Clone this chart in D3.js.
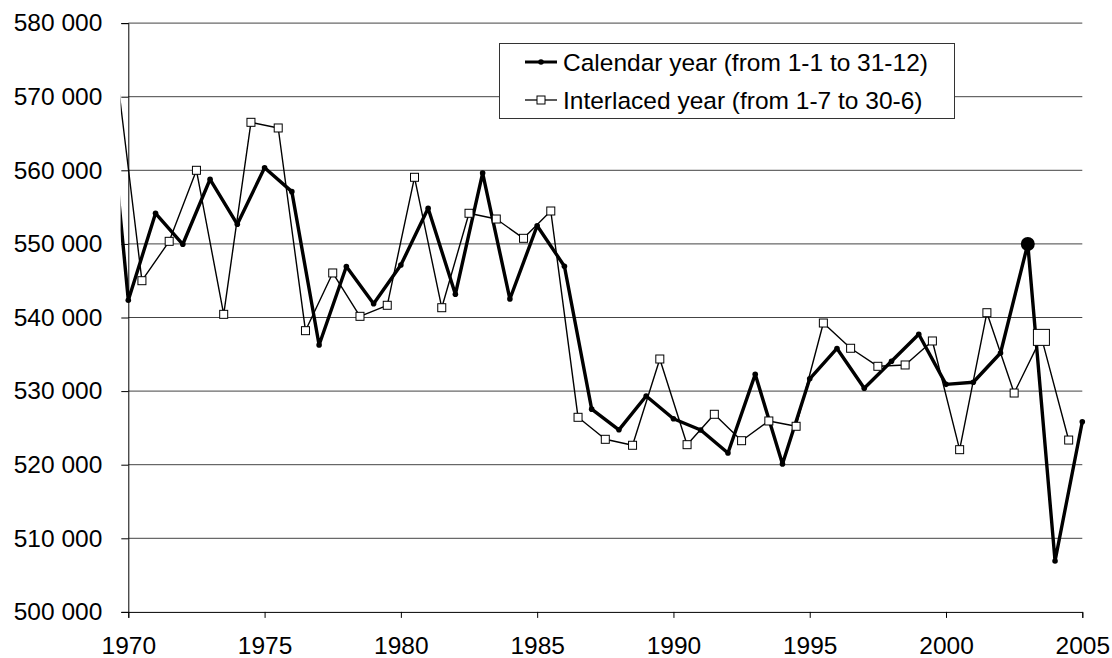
<!DOCTYPE html>
<html>
<head>
<meta charset="utf-8">
<script src="https://cdn.jsdelivr.net/npm/d3@7/dist/d3.min.js"></script>
<style>
  html, body { margin: 0; padding: 0; background: #fff; }
  svg { display: block; font-family: "Liberation Sans", Arial, sans-serif; }
</style>
</head>
<body>
<svg id="chart" width="1112" height="658"></svg>
<script>
// ---- data ----
const calendarYears = [1969, 1970, 1971, 1972, 1973, 1974, 1975, 1976, 1977, 1978, 1979,
  1980, 1981, 1982, 1983, 1984, 1985, 1986, 1987, 1988, 1989,
  1990, 1991, 1992, 1993, 1994, 1995, 1996, 1997, 1998, 1999,
  2000, 2001, 2002, 2003, 2004, 2005];
const calendarValues = [581500, 542340, 554160, 549950, 558780, 552660, 560350, 557100, 536260, 546930, 541880,
  547130, 554840, 543150, 559630, 542510, 552470, 546960, 527550, 524740, 529330,
  526250, 524720, 521590, 532280, 520100, 531670, 535790, 530380, 534050, 537720,
  530920, 531200, 535180, 549990, 506920, 525840];

const interlacedYears = [1969.5, 1970.5, 1971.5, 1972.5, 1973.5, 1974.5, 1975.5, 1976.5, 1977.5, 1978.5, 1979.5,
  1980.5, 1981.5, 1982.5, 1983.5, 1984.5, 1985.5, 1986.5, 1987.5, 1988.5, 1989.5,
  1990.5, 1991.5, 1992.5, 1993.5, 1994.5, 1995.5, 1996.5, 1997.5, 1998.5, 1999.5,
  2000.5, 2001.5, 2002.5, 2003.5, 2004.5];
const interlacedValues = [575600, 545000, 550350, 560000, 540430, 566520, 565750, 538210, 546050, 540160, 541660,
  559050, 541330, 554160, 553380, 550760, 554470, 526440, 523450, 522640, 534360,
  522720, 526850, 523260, 525940, 525220, 539250, 535820, 533370, 533550, 536810,
  522040, 540650, 529740, 537300, 523350];

const highlightCalendar = 2003;
const highlightInterlaced = 2003.5;

const xTicks = [1970, 1975, 1980, 1985, 1990, 1995, 2000, 2005];
const yTicks = [500000, 510000, 520000, 530000, 540000, 550000, 560000, 570000, 580000];

const legendLabels = ["Calendar year (from 1-1 to 31-12)", "Interlaced year (from 1-7 to 30-6)"];

// ---- layout ----
const svg = d3.select("#chart");
const mLeft = 128.3, mRight = 1082.3, mTop = 23.1, mBottom = 611.9;
const FS = 24.5;

const x = d3.scaleLinear().domain([1970, 2005]).range([mLeft, mRight]);
const y = d3.scaleLinear().domain([500000, 580000]).range([mBottom, mTop]);

const fmt = v => d3.format(",")(v).replace(/,/g, " ");

// gridlines
svg.append("g")
  .selectAll("line")
  .data(yTicks.filter(v => v !== 500000))
  .join("line")
  .attr("x1", mLeft).attr("x2", mRight)
  .attr("y1", d => y(d)).attr("y2", d => y(d))
  .attr("stroke", "#444").attr("stroke-width", 1);

// y axis
const yAxis = svg.append("g")
  .attr("transform", `translate(${mLeft},0)`)
  .call(d3.axisLeft(y).tickValues(yTicks).tickFormat(fmt).tickSize(7).tickPadding(19));
yAxis.select(".domain").attr("stroke", "#000");
yAxis.selectAll(".tick line").attr("stroke", "#000");
yAxis.selectAll("text").attr("font-size", FS).attr("fill", "#000")
  .attr("font-family", "'Liberation Sans', Arial, sans-serif");

// x axis
const xAxis = svg.append("g")
  .attr("transform", `translate(0,${mBottom})`)
  .call(d3.axisBottom(x).tickValues(xTicks).tickFormat(d3.format("d")).tickSize(6).tickPadding(21));
xAxis.select(".domain").attr("stroke", "#000");
xAxis.selectAll(".tick line").attr("stroke", "#000");
xAxis.selectAll("text").attr("font-size", FS).attr("fill", "#000")
  .attr("font-family", "'Liberation Sans', Arial, sans-serif")
  .attr("y", 42.3).attr("dy", 0);

// clip
svg.append("defs").append("clipPath").attr("id", "plotclip")
  .append("rect").attr("x", 120.6).attr("y", 0).attr("width", mRight + 20 - 120.6).attr("height", mBottom + 10);

const plot = svg.append("g").attr("clip-path", "url(#plotclip)");

const cal = calendarYears.map((yr, i) => ({ yr, v: calendarValues[i] }));
const inter = interlacedYears.map((yr, i) => ({ yr, v: interlacedValues[i] }));

const line = d3.line().x(d => x(d.yr)).y(d => y(d.v));

// interlaced (thin)
plot.append("path").datum(inter).attr("d", line)
  .attr("fill", "none").attr("stroke", "#000").attr("stroke-width", 1.4).attr("stroke-linejoin", "round");

// calendar (thick)
plot.append("path").datum(cal).attr("d", line)
  .attr("fill", "none").attr("stroke", "#000").attr("stroke-width", 3.4).attr("stroke-linejoin", "round");

// squares
const visInter = inter.filter(d => d.yr >= 1970);
plot.append("g").selectAll("rect").data(visInter).join("rect")
  .attr("x", d => x(d.yr) - (d.yr === highlightInterlaced ? 8 : 4))
  .attr("y", d => y(d.v) - (d.yr === highlightInterlaced ? 8 : 4))
  .attr("width", d => d.yr === highlightInterlaced ? 16 : 8)
  .attr("height", d => d.yr === highlightInterlaced ? 16 : 8)
  .attr("fill", "#fff").attr("stroke", "#000").attr("stroke-width", 1);

// dots
const visCal = cal.filter(d => d.yr >= 1970);
plot.append("g").selectAll("circle").data(visCal).join("circle")
  .attr("cx", d => x(d.yr)).attr("cy", d => y(d.v))
  .attr("r", d => d.yr === highlightCalendar ? 7 : 2.8)
  .attr("fill", "#000");

// legend
const lg = svg.append("g");
lg.append("rect").attr("x", 499.5).attr("y", 43.5).attr("width", 455).attr("height", 75)
  .attr("fill", "#fff").attr("stroke", "#333").attr("stroke-width", 1);
const rows = [62, 100];
lg.append("line").attr("x1", 525).attr("x2", 557).attr("y1", rows[0]).attr("y2", rows[0])
  .attr("stroke", "#000").attr("stroke-width", 3);
lg.append("circle").attr("cx", 541).attr("cy", rows[0]).attr("r", 2.8).attr("fill", "#000");
lg.append("line").attr("x1", 525).attr("x2", 557).attr("y1", rows[1]).attr("y2", rows[1])
  .attr("stroke", "#000").attr("stroke-width", 1.3);
lg.append("rect").attr("x", 537).attr("y", rows[1] - 4).attr("width", 8).attr("height", 8)
  .attr("fill", "#fff").attr("stroke", "#000").attr("stroke-width", 1);
lg.selectAll("text.lbl").data(legendLabels).join("text")
  .attr("class", "lbl")
  .attr("x", 563).attr("y", (d, i) => rows[i] + 8.5)
  .attr("font-size", FS).attr("fill", "#000")
  .text(d => d);
</script>
</body>
</html>
